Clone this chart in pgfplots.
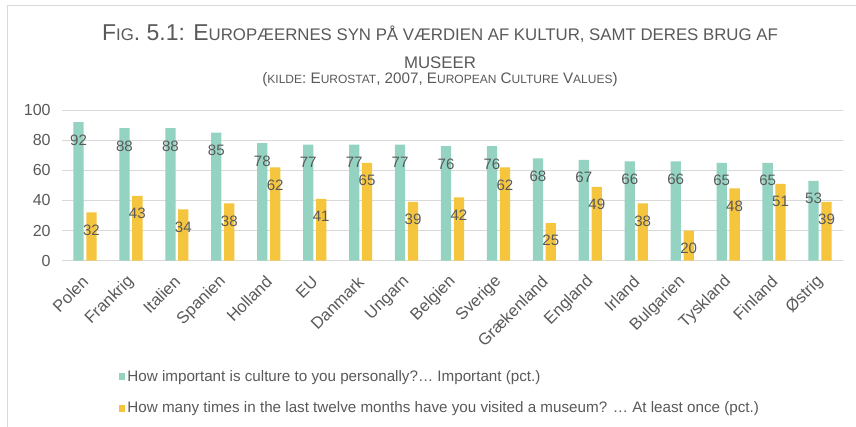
\documentclass[border=0pt]{standalone}
\usepackage{pgfplots}
\pgfplotsset{compat=1.18}
\usepackage{fontspec}
\setmainfont{Liberation Sans}
\definecolor{txt}{HTML}{595959}
\definecolor{gr}{HTML}{94D3C1}
\definecolor{ye}{HTML}{F5C53D}
\definecolor{gridc}{HTML}{D9D9D9}
\newcommand\ts[1]{{\fontsize{12.6}{14}\selectfont #1}}
\newcommand\sst[1]{{\fontsize{9}{10}\selectfont #1}}
\begin{document}
\begin{tikzpicture}
\useasboundingbox (0,0) rectangle (642pt,319.5pt);
\draw[gridc, line width=0.75pt] (5.25pt,-10pt) -- (5.25pt,315.4pt) -- (700pt,315.4pt);
\node[anchor=base, text=txt, inner sep=0pt, font=\fontsize{17.2}{19}\selectfont] at (330pt,289.5pt)
  {F\ts{IG}. 5.1: E\ts{UROPÆERNES SYN PÅ VÆRDIEN AF KULTUR, SAMT DERES BRUG AF}};
\node[anchor=base, text=txt, inner sep=0pt] at (330pt,268.5pt) {\ts{MUSEER}};
\node[anchor=base, text=txt, inner sep=0pt, font=\fontsize{11.4}{13}\selectfont] at (330pt,257.25pt)
  {(\sst{KILDE}: E\sst{UROSTAT}, 2007, E\sst{UROPEAN} C\sst{ULTURE} V\sst{ALUES})};
\begin{axis}[
  at={(46.5pt,123.975pt)}, anchor=south west,
  scale only axis, width=585.75pt, height=113pt,
  xmin=-0.5, xmax=16.5, ymin=0, ymax=100,
  ybar=2pt, bar width=7.7pt,
  xtick={0,...,16},
  xticklabels={Polen,Frankrig,Italien,Spanien,Holland,EU,Danmark,Ungarn,Belgien,Sverige,Grækenland,England,Irland,Bulgarien,Tyskland,Finland,Østrig},
  ytick={0,20,...,100},
  ymajorgrids, grid style={gridc, line width=0.75pt},
  axis line style={draw=none},
  major tick length=0pt, tick style={draw=none},
  /pgf/number format/assume math mode=true,
  yticklabel style={font=\fontsize{12}{14}\selectfont, text=txt, xshift=-5pt},
  xticklabel shift=14pt,
  xticklabel style={font=\fontsize{12.4}{14}\selectfont, text=txt, rotate=45, anchor=east, inner sep=1pt, xshift=1.5pt},
  nodes near coords,
  every node near coord/.append style={font=\fontsize{11.3}{13}\selectfont, text=txt, anchor=center, yshift=-13.3pt},
  legend cell align=left,
  legend style={at={(axis description cs:0.072,-0.8746)}, anchor=west, draw=none, fill=none,
    font=\fontsize{11.4}{13}\selectfont, text=txt, row sep=10.8pt, inner sep=0pt, nodes={inner sep=1.5pt}},
  legend image code/.code={\fill[#1] (0pt,-2.6pt) rectangle (5.2pt,2.6pt);},
]
\addplot[fill=gr, draw=none] coordinates {
(0,92) (1,88) (2,88) (3,85) (4,78) (5,77) (6,77) (7,77) (8,76) (9,76) (10,68) (11,67) (12,66) (13,66) (14,65) (15,65) (16,53)};
\addplot[fill=ye, draw=none] coordinates {
(0,32) (1,43) (2,34) (3,38) (4,62) (5,41) (6,65) (7,39) (8,42) (9,62) (10,25) (11,49) (12,38) (13,20) (14,48) (15,51) (16,39)};
\legend{How important is culture to you personally?… Important (pct.),How many times in the last twelve months have you visited a museum? … At least once (pct.)}
\end{axis}
\end{tikzpicture}
\end{document}
